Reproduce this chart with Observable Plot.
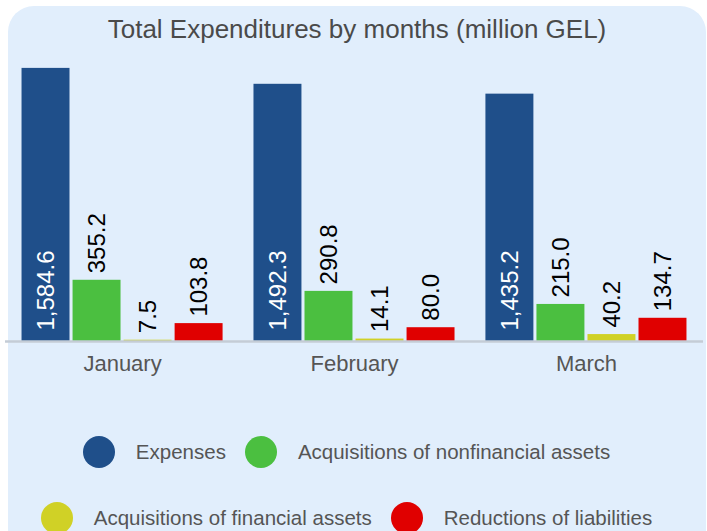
<!DOCTYPE html>
<html>
<head>
<meta charset="utf-8">
<script src="https://cdn.jsdelivr.net/npm/d3@7"></script>
<script src="https://cdn.jsdelivr.net/npm/@observablehq/plot@0.6"></script>
<style>
  html, body { margin: 0; padding: 0; background: #ffffff; }
  #wrap { position: relative; width: 707px; height: 531px; overflow: hidden; font-family: "Liberation Sans", Arial, sans-serif; }
  #panel { position: absolute; left: 8px; top: 6px; width: 698px; height: 560px; border-radius: 26px; background: #e1eefc; }
  #title { position: absolute; left: 8px; width: 698px; top: 12px; text-align: center; font-size: 26px; color: #4a4a4a; line-height: 34px; }
  #chart { position: absolute; left: 0; top: 40px; }
  .row { position: absolute; left: 18px; width: 676px; display: flex; justify-content: center; align-items: center; }
  .item { display: flex; align-items: center; margin-right: 19px; font-size: 20.5px; color: #555; }
  .dot { width: 32px; height: 32px; border-radius: 50%; margin-right: 21px; }
</style>
</head>
<body>
<div id="wrap">
  <div id="panel"></div>
  <div id="title">Total Expenditures by months (million GEL)</div>
  <div id="chart"></div>
  <div class="row" id="row1" style="top:436px"></div>
  <div class="row" id="row2" style="top:502px"></div>
</div>
<script>
const months = ["January", "February", "March"];
const series = ["Expenses", "Acquisitions of nonfinancial assets", "Acquisitions of financial assets", "Reductions of liabilities"];
const expenses = [1584.6, 1492.3, 1435.2];
const nonfinancial = [355.2, 290.8, 215.0];
const financial = [7.5, 14.1, 40.2];
const liabilities = [103.8, 80.0, 134.7];
const colors = ["#1f4f8a", "#4bbf40", "#d0d126", "#e00000"];

const valuesBySeries = [expenses, nonfinancial, financial, liabilities];
const data = months.flatMap((m, i) => series.map((s, j) => ({month: m, series: s, value: valuesBySeries[j][i]})));
const fmt = d3.format(",.1f");

const chart = Plot.plot({
  width: 707,
  height: 380,
  marginTop: 8,
  marginBottom: 79,
  marginLeft: 20,
  marginRight: 19,
  style: {background: "transparent", fontFamily: "'Liberation Sans', Arial, sans-serif", fontSize: "22px", color: "#555"},
  fx: {domain: months, paddingInner: 0.12, paddingOuter: 0, round: false, label: null, axis: "bottom", tickSize: 0, tickPadding: 14},
  x: {domain: series, axis: null, paddingInner: 0.06, paddingOuter: 0.03, round: false},
  y: {domain: [0, 1700], axis: null},
  color: {domain: series, range: colors},
  marks: [
    Plot.barY(data, {fx: "month", x: "series", y: "value", fill: "series"}),
    Plot.text(data.filter(d => d.series === "Expenses"), {
      fx: "month", x: "series", y: 0, text: d => fmt(d.value),
      rotate: -90, textAnchor: "start", dy: -11, fill: "white", fontSize: 24
    }),
    Plot.text(data.filter(d => d.series !== "Expenses"), {
      fx: "month", x: "series", y: "value", text: d => fmt(d.value),
      rotate: -90, textAnchor: "start", dy: -7, fill: "black", fontSize: 24
    })
  ]
});
document.getElementById("chart").appendChild(chart);

// baseline axis line across the full width
const y0 = chart.scale("y").apply(0);
d3.select(chart).append("line")
  .attr("x1", 5).attr("x2", 703)
  .attr("y1", y0 + 0.5).attr("y2", y0 + 0.5)
  .attr("stroke", "#c4ccd6").attr("stroke-width", 2.5);

// legend
const rows = [[0, 1], [2, 3]];
rows.forEach((r, k) => {
  const row = document.getElementById(k === 0 ? "row1" : "row2");
  r.forEach(j => {
    const item = document.createElement("div");
    item.className = "item";
    const dot = document.createElement("div");
    dot.className = "dot";
    dot.style.background = colors[j];
    const label = document.createElement("span");
    label.textContent = series[j];
    item.appendChild(dot);
    item.appendChild(label);
    row.appendChild(item);
  });
});
</script>
</body>
</html>
